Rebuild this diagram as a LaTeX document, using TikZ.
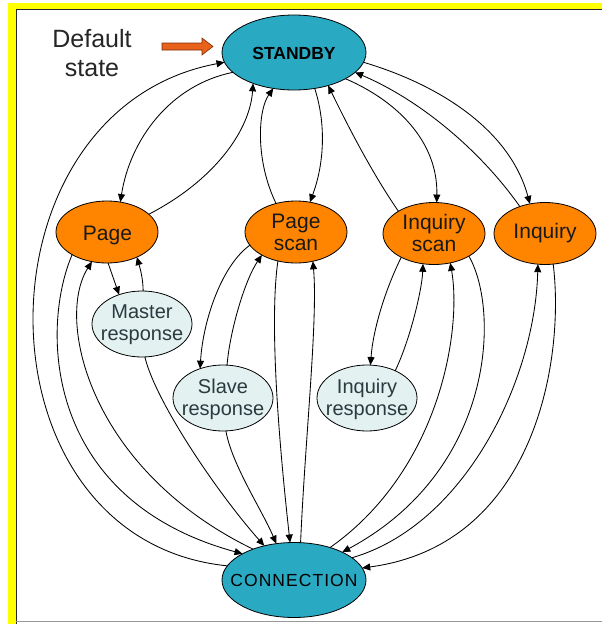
\documentclass[tikz,border=0pt]{standalone}
\usepackage{fontspec}
\setmainfont{Liberation Sans}
\usetikzlibrary{shapes.geometric,arrows.meta}

\definecolor{hubblue}{HTML}{2AA9C3}
\definecolor{modeorange}{HTML}{FF8400}
\definecolor{respfill}{HTML}{E3F1F1}
\definecolor{respink}{HTML}{2A3A3E}
\definecolor{frameyellow}{HTML}{FFFF00}
\definecolor{pointerfill}{HTML}{E8621C}
\definecolor{pointeredge}{HTML}{7A2E0A}

\begin{document}
\begin{tikzpicture}[x=1pt,y=-1pt,
  every node/.style={inner sep=0pt, outer sep=0pt},
  hub/.style={ellipse, draw=black, line width=0.8pt, fill=hubblue,
              minimum width=144pt, minimum height=75pt},
  mode/.style={ellipse, draw=black, line width=0.8pt, fill=modeorange,
               minimum width=102pt, minimum height=62pt},
  resp/.style={ellipse, draw=black, line width=0.8pt, fill=respfill,
               minimum width=100pt, minimum height=66pt},
  modetext/.style={align=center, text=black!90,
                   font=\fontsize{21}{22}\selectfont},
  resptext/.style={align=center, text=respink,
                   font=\fontsize{20}{22}\selectfont},
  link/.style={draw=black, line width=0.85pt,
               -{Triangle[length=8pt,width=7pt]}}
]
\useasboundingbox (0,0) rectangle (602,624);
\fill[white] (0,0) rectangle (602,624);

% frame: yellow band on the left and top, dark rule inside it
\fill[frameyellow] (8,3) rectangle (15.5,624);
\fill[frameyellow] (8,3) rectangle (602,8.5);
\draw[black!85, line width=1.5pt] (16.3,624) -- (16.3,9.3) -- (602,9.3);
\draw[black!40, line width=1.2pt] (16.3,621.5) -- (602,621.5);

% states
\node[hub]  (sb) at (294,52.5) {};
\node[hub]  (cn) at (294,580) {};
\node[mode] (pg) at (107,232) {};
\node[mode] (ps) at (296,232) {};
\node[mode] (is) at (434,233.5) {};
\node[mode] (iq) at (545,233.5) {};
\node[resp] (mr) at (142,324) {};
\node[resp] (sr) at (223,398) {};
\node[resp] (ir) at (367,398) {};

% state names
\node[anchor=base, font=\bfseries\fontsize{17.5}{18}\selectfont] (sbt) at (294,59.5) {STANDBY};
\node[anchor=base, font=\fontsize{17.5}{18}\selectfont\addfontfeature{LetterSpace=6}] (cnt) at (294,586.5) {CONNECTION};
\node[modetext, anchor=base] (pgt) at (107.5,240) {Page};
\node[modetext] (pst) at (296,232) {Page\\scan};
\node[modetext] (ist) at (434,233) {Inquiry\\scan};
\node[modetext, anchor=base] (iqt) at (545,238.5) {Inquiry};
\node[resptext] (mrt) at (142,325) {Master\\response};
\node[resptext] (srt) at (223,399) {Slave\\response};
\node[resptext] (irt) at (367,399) {Inquiry\\response};

% default state marker
\node[align=center, font=\fontsize{25}{29}\selectfont, text=black!85] (dft) at (92,53.5) {Default\\state};
\coordinate (ptail) at (162,46.5);
\coordinate (ptip) at (213,46.5);
\draw[fill=pointerfill, draw=pointeredge, line width=0.6pt, line join=miter]
  (ptail) ++(0,-3.5) -- ++(40,0) -- ++(0,-5) -- (ptip) -- ++(-11,8.5)
  -- ++(0,-5) -- ++(-40,0) -- cycle;

% STANDBY and the four orange states
\draw[link] (cn.168) .. controls (-30,540) and (-30,110) .. (sb.188);
\draw[link] (sb.198) .. controls (170,85) and (130,140) .. (pg.66);
\draw[link] (pg.23) .. controls (215,180) and (250,130) .. (sb.217);
\draw[link] (ps.125) .. controls (255,160) and (258,110) .. (sb.240);
\draw[link] (sb.-60) .. controls (328,130) and (322,170) .. (ps.65);
\draw[link] (is.148) .. controls (370,170) and (345,120) .. (sb.-44);
\draw[link] (sb.-27) .. controls (395,100) and (438,140) .. (is.85);
\draw[link] (iq.133) .. controls (480,150) and (420,100) .. (sb.-18);
\draw[link] (sb.-8) .. controls (440,85) and (510,130) .. (iq.117);

% page side
\draw[link] (pg.-88) -- (mr.128);
\draw[link] (mr.88) .. controls (143,278) and (140,268) .. (pg.-40);
\draw[link] (pg.213) .. controls (40,330) and (45,500) .. (cn.153);
\draw[link] (cn.143) .. controls (90,470) and (55,320) .. (pg.243);
\draw[link] (mr.-85) .. controls (155,400) and (215,490) .. (cn.131);

% page scan side
\draw[link] (ps.196) .. controls (222,265) and (203,320) .. (sr.128);
\draw[link] (sr.83) .. controls (230,330) and (245,280) .. (ps.214);
\draw[link] (sr.-85) .. controls (232,465) and (262,510) .. (cn.116);
\draw[link] (ps.238) .. controls (268,330) and (282,470) .. (cn.96);
\draw[link] (cn.80) .. controls (305,440) and (318,320) .. (ps.-60);

% inquiry side
\draw[link] (is.216) .. controls (385,290) and (373,330) .. (ir.84);
\draw[link] (ir.44) .. controls (410,340) and (422,290) .. (is.250);
\draw[link] (cn.42.5) .. controls (440,470) and (462,330) .. (is.-61);
\draw[link] (is.-33) .. controls (500,310) and (495,470) .. (cn.30.5);
\draw[link] (cn.21) .. controls (465,525) and (535,380) .. (iq.257);
\draw[link] (iq.-75) .. controls (565,360) and (535,545) .. (cn.10.4);
\end{tikzpicture}
\end{document}
